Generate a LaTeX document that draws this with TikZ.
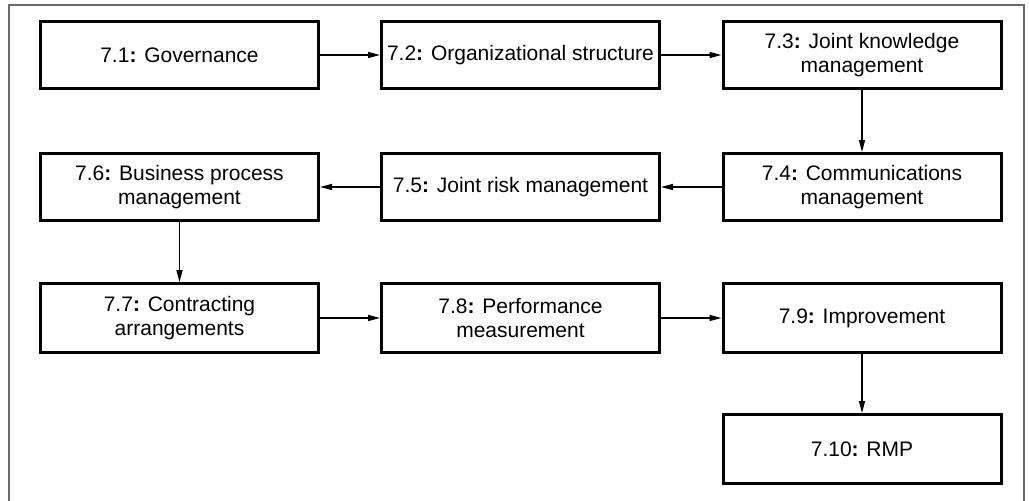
\documentclass[tikz,border=0pt]{standalone}
\usepackage{fontspec}
\setmainfont{Liberation Sans}
\usetikzlibrary{arrows.meta}
\begin{document}
\begin{tikzpicture}[x=1pt,y=-1pt,
  stagebox/.style={draw=black,line width=3pt,rectangle,minimum width=278pt,
    minimum height=67pt,align=center,inner sep=0pt,
    font=\fontsize{21}{24}\selectfont},
  tallbox/.style={stagebox,minimum height=69pt},
  flow/.style={line width=1.4pt,-{Triangle[length=12pt,width=6pt]}},
  frameline/.style={draw=black!58,line width=2pt}]
\useasboundingbox (0,0) rectangle (1029,501);
\fill[white] (0,0) rectangle (1029,501);
% open frame around the chart
\draw[frameline] (9,501) -- (9,5) -- (1024,5) -- (1024,501);

% row 1
\node[stagebox] (g)   at (179.5,55) {7.1\textbf{:} Governance};
\node[stagebox] (org) at (520.5,55) {7.2\textbf{:} Organizational structure};
\node[stagebox] (jkm) at (862,55)   {7.3\textbf{:} Joint knowledge\\management};
% row 2
\node[stagebox] (bpm) at (179.5,187) {7.6\textbf{:} Business process\\management};
\node[stagebox] (jrm) at (520.5,187) {7.5\textbf{:} Joint risk management};
\node[stagebox] (com) at (862,187)   {7.4\textbf{:} Communications\\management};
% row 3
\node[tallbox] (ca)  at (179.5,318) {7.7\textbf{:} Contracting\\arrangements};
\node[tallbox] (pm)  at (520.5,318) {7.8\textbf{:} Performance\\measurement};
\node[tallbox] (imp) at (862,318)   {7.9\textbf{:} Improvement};
% row 4
\node[tallbox] (rmp) at (862,449)   {7.10\textbf{:} RMP};

% connectors
\draw[flow] (g) -- (org);
\draw[flow] (org) -- (jkm);
\draw[flow] (jkm) -- (com);
\draw[flow] (com) -- (jrm);
\draw[flow] (jrm) -- (bpm);
\draw[flow] (bpm) -- (ca);
\draw[flow] (ca) -- (pm);
\draw[flow] (pm) -- (imp);
\draw[flow] (imp) -- (rmp);
\end{tikzpicture}
\end{document}
